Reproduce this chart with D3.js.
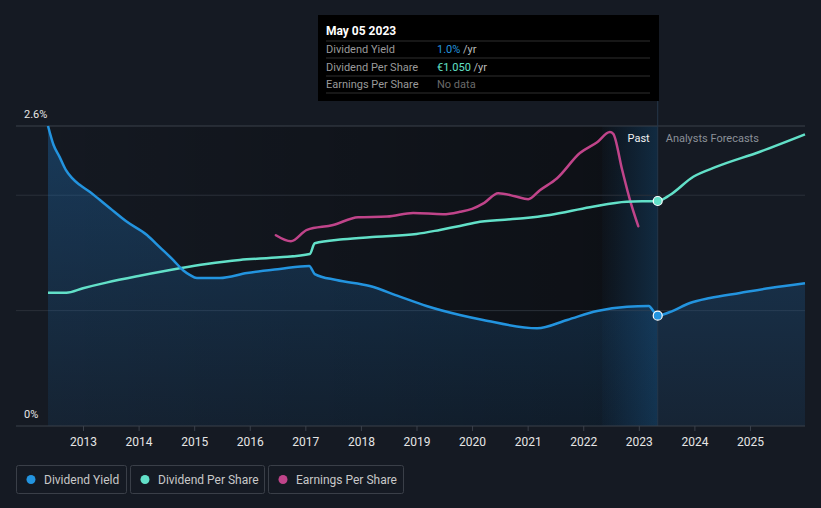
<!DOCTYPE html>
<html><head><meta charset="utf-8">
<script src="https://cdn.jsdelivr.net/npm/d3@7"></script>
<style>
html,body{margin:0;padding:0;background:#151a23;}
svg{display:block;font-family:Roboto,"Noto Sans",sans-serif;}
</style></head>
<body><svg id="c" width="821" height="508"></svg>
<script>
// Dividend yield (%), [year, value]
const yieldYears = [2012.37,2012.47,2012.58,2012.69,2012.80,2012.94,2013.12,2013.30,2013.48,2013.79,2014.15,2014.38,2014.62,2014.80,2014.92,2015.05,2015.46,2015.95,2016.54,2017.07,2017.17,2017.56,2018.16,2018.70,2019.18,2019.78,2020.20,2021.17,2021.71,2022.25,2022.79,2023.18,2023.27,2023.34,2023.56,2023.92,2024.28,2024.82,2025.36,2025.99];
const yieldValues = [2.60,2.435,2.33,2.22,2.15,2.09,2.03,1.96,1.89,1.77,1.655,1.55,1.44,1.35,1.31,1.283,1.283,1.326,1.361,1.387,1.317,1.265,1.213,1.121,1.040,0.962,0.919,0.847,0.919,0.997,1.034,1.040,0.991,0.956,0.988,1.066,1.109,1.153,1.196,1.237];
// Dividend per share (EUR)
const dpsYears = [2012.37,2012.70,2013.00,2013.42,2014.02,2014.74,2015.22,2015.82,2016.54,2017.08,2017.17,2017.68,2018.28,2019.00,2019.42,2019.78,2020.14,2020.92,2021.40,2022.12,2022.78,2023.34,2023.56,2023.98,2024.40,2025.18,2025.99];
const dpsValues = [0.622,0.622,0.643,0.669,0.701,0.736,0.756,0.775,0.787,0.803,0.853,0.871,0.883,0.896,0.915,0.933,0.953,0.969,0.985,1.021,1.047,1.050,1.078,1.163,1.210,1.280,1.361];
// Earnings per share (EUR)
const epsYears = [2016.47,2016.74,2017.03,2017.50,2017.95,2018.47,2018.94,2019.48,2019.78,2020.00,2020.22,2020.47,2020.77,2021.01,2021.22,2021.53,2021.94,2022.25,2022.48,2022.54,2022.70,2022.84,2022.99];
const epsValues = [3.18,3.08,3.27,3.35,3.48,3.49,3.55,3.53,3.57,3.62,3.72,3.88,3.83,3.78,3.93,4.13,4.55,4.73,4.90,4.87,4.27,3.77,3.33];

const xTicks = [2013,2014,2015,2016,2017,2018,2019,2020,2021,2022,2023,2024,2025];
const yTickLabels = ["0%","2.6%"];
const yTickValues = [0,2.6];
const gridValues = [1,2];
const nowYear = 2023.34;
const seriesNames = ["Dividend Yield","Dividend Per Share","Earnings Per Share"];
const colors = {yield:"#2394df", dps:"#62e0c8", eps:"#c0448a"};

const svg = d3.select("#c");
const x = d3.scaleLinear().domain([2012.37, 2025.99]).range([48, 805]);
const yY = d3.scaleLinear().domain([0, 2.6]).range([426, 126]);
const yD = d3.scaleLinear().domain([0, 1.4]).range([426, 126]);
const yE = d3.scaleLinear().domain([0, 5]).range([426, 126]);

const defs = svg.append("defs");
const g1 = defs.append("linearGradient").attr("id","pastShade").attr("x1",0).attr("x2",1).attr("y1",0).attr("y2",0);
g1.append("stop").attr("offset",0).attr("stop-color","#000").attr("stop-opacity",0.05);
g1.append("stop").attr("offset",1).attr("stop-color","#000").attr("stop-opacity",0.4);
const g2 = defs.append("linearGradient").attr("id","band").attr("x1",0).attr("x2",1).attr("y1",0).attr("y2",0);
g2.append("stop").attr("offset",0).attr("stop-color","#2196f3").attr("stop-opacity",0.02);
g2.append("stop").attr("offset",1).attr("stop-color","#2196f3").attr("stop-opacity",0.2);
const g3 = defs.append("linearGradient").attr("id","area").attr("x1",0).attr("x2",0).attr("y1",0).attr("y2",1);
g3.append("stop").attr("offset",0).attr("stop-color","#1f6fb5").attr("stop-opacity",0.38);
g3.append("stop").attr("offset",1).attr("stop-color","#1f6fb5").attr("stop-opacity",0.12);

const x0 = x(2012.37), xNow = x(nowYear);
svg.append("rect").attr("x",x0).attr("y",126).attr("width",xNow-x0).attr("height",300).attr("fill","url(#pastShade)");
svg.append("rect").attr("x",x(nowYear-1)).attr("y",126).attr("width",xNow-x(nowYear-1)).attr("height",300).attr("fill","url(#band)");

// grid
svg.append("line").attr("x1",16).attr("x2",805).attr("y1",yY(2.6)).attr("y2",yY(2.6)).attr("stroke","#3b414b").attr("stroke-width",1);
svg.selectAll(".grid").data(gridValues).enter().append("line")
  .attr("x1",16).attr("x2",805).attr("y1",d=>yY(d)).attr("y2",d=>yY(d))
  .attr("stroke","#2a3039").attr("stroke-width",1);

const yieldData = yieldYears.map((t,i)=>[t,yieldValues[i]]);
const dpsData = dpsYears.map((t,i)=>[t,dpsValues[i]]);
const epsData = epsYears.map((t,i)=>[t,epsValues[i]]);

svg.append("path").datum(yieldData)
  .attr("d", d3.area().x(d=>x(d[0])).y0(yY(0)).y1(d=>yY(d[1])).curve(d3.curveMonotoneX))
  .attr("fill","url(#area)");

// now line
svg.append("line").attr("x1",xNow).attr("x2",xNow).attr("y1",101).attr("y2",426).attr("stroke","#25364a").attr("stroke-width",1);

// axis
const xa = svg.append("g").attr("transform","translate(0,426)")
  .call(d3.axisBottom(x).tickValues(xTicks).tickFormat(d3.format("d")).tickSize(5).tickPadding(6));
xa.select(".domain").remove();
xa.selectAll(".tick line").attr("stroke","#3b414b");
xa.selectAll(".tick text").attr("fill","#e6e6e6").attr("font-size",12).attr("font-family","'Liberation Sans Narrow',Roboto,sans-serif");
svg.append("line").attr("x1",16).attr("x2",805).attr("y1",426).attr("y2",426).attr("stroke","#3b414b");

svg.selectAll(".ylab").data(yTickValues).enter().append("text")
  .attr("x",24).attr("y",d=>yY(d)-8).attr("fill","#e6e6e6").attr("font-size",11)
  .text((d,i)=>yTickLabels[i]);

const line = (ys)=>d3.line().x(d=>x(d[0])).y(d=>ys(d[1])).curve(d3.curveMonotoneX);
svg.append("path").datum(epsData).attr("d",line(yE)).attr("fill","none").attr("stroke",colors.eps).attr("stroke-width",2.5).attr("stroke-linejoin","round").attr("stroke-linecap","round");
svg.append("path").datum(dpsData).attr("d",line(yD)).attr("fill","none").attr("stroke",colors.dps).attr("stroke-width",2.5);
svg.append("path").datum(yieldData).attr("d",line(yY)).attr("fill","none").attr("stroke",colors.yield).attr("stroke-width",2.5);

svg.append("circle").attr("cx",xNow).attr("cy",yD(1.050)).attr("r",4.5).attr("fill",colors.dps).attr("stroke","#fff").attr("stroke-width",1.2);
svg.append("circle").attr("cx",xNow).attr("cy",yY(0.956)).attr("r",4.5).attr("fill",colors.yield).attr("stroke","#fff").attr("stroke-width",1.2);

svg.append("text").attr("x",xNow-8).attr("y",142).attr("text-anchor","end").attr("fill","#f0f0f0").attr("font-size",11).text("Past");
svg.append("text").attr("x",xNow+8).attr("y",142).attr("fill","#8b9098").attr("font-size",11).text("Analysts Forecasts");

// tooltip
const tt = svg.append("g");
tt.append("rect").attr("x",318).attr("y",15).attr("width",341).attr("height",86).attr("fill","#000");
tt.append("text").attr("x",326).attr("y",35).attr("fill","#fff").attr("font-size",12).attr("font-weight","bold").text("May 05 2023");
[41,58,76,93].forEach(yy=>tt.append("line").attr("x1",326).attr("x2",650).attr("y1",yy).attr("y2",yy).attr("stroke","#2e2e2e"));
const rows = [
  {label:seriesNames[0], val:"1.0%", unit:" /yr", color:"#2394df"},
  {label:seriesNames[1], val:"€1.050", unit:" /yr", color:"#62e0c8"},
  {label:"Earnings Per Share", val:"No data", unit:"", color:"#6a6a6a"}
];
rows.forEach((r,i)=>{
  const yy = 53 + i*17.5;
  tt.append("text").attr("x",326).attr("y",yy).attr("fill","#9a9a9a").attr("font-size",11).text(r.label);
  const t = tt.append("text").attr("x",437).attr("y",yy).attr("font-size",11);
  t.append("tspan").attr("fill",r.color).text(r.val);
  t.append("tspan").attr("fill","#bbbbbb").text(r.unit);
});

// legend
const leg = [{n:seriesNames[0],c:colors.yield,x:16,w:110},{n:seriesNames[1],c:colors.dps,x:130,w:134},{n:seriesNames[2],c:colors.eps,x:268,w:135}];
leg.forEach(l=>{
  const g = svg.append("g");
  g.append("rect").attr("x",l.x+0.5).attr("y",465.5).attr("width",l.w).attr("height",28).attr("rx",2).attr("fill","none").attr("stroke","#3a3f48");
  g.append("circle").attr("cx",l.x+15).attr("cy",479.5).attr("r",4.5).attr("fill",l.c);
  g.append("text").attr("x",l.x+28).attr("y",483.5).attr("fill","#c8c8c8").attr("font-size",12).attr("font-family","'Liberation Sans Narrow',Roboto,sans-serif").text(l.n);
});
</script></body></html>
